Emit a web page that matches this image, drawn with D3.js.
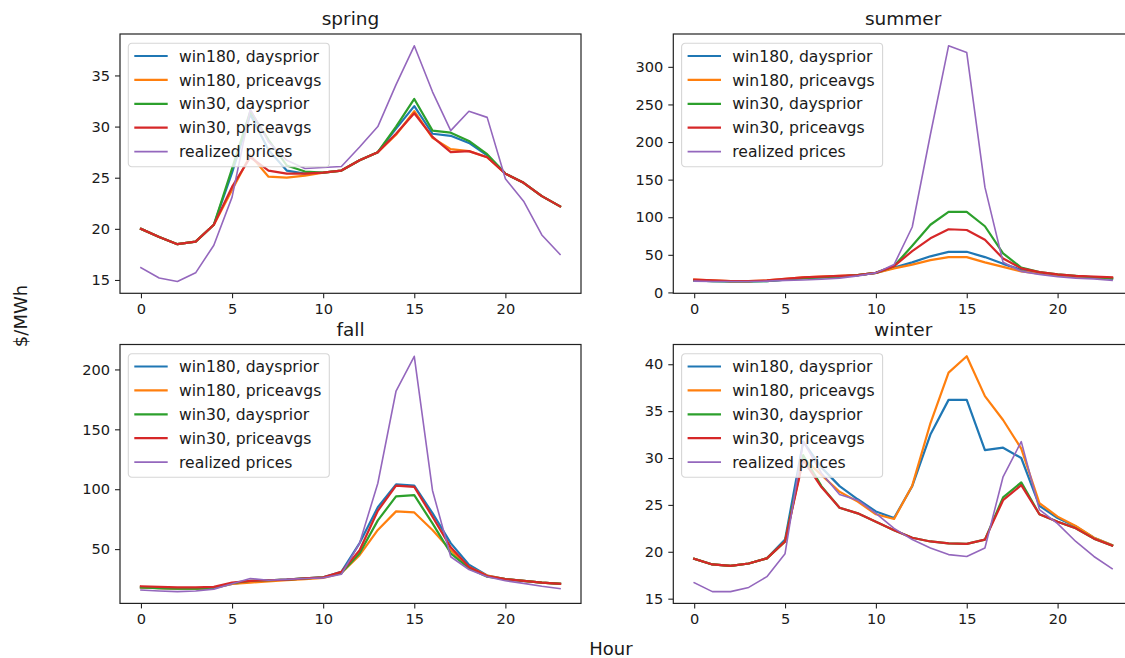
<!DOCTYPE html>
<html>
<head>
<meta charset="utf-8">
<script src="https://d3js.org/d3.v7.min.js"></script>
<style>
  html, body { margin: 0; padding: 0; background: #fff; }
  svg { display: block; }
  text { font-family: "DejaVu Sans", sans-serif; fill: #1a1a1a; }
</style>
</head>
<body>
<svg id="chart" width="1125" height="658"></svg>
<script>
// ---------------- data ----------------
const hours = d3.range(0, 24);
const seriesNames = ["win180, daysprior", "win180, priceavgs", "win30, daysprior", "win30, priceavgs", "realized prices"];
const xTicks = [0, 5, 10, 15, 20];

const springTicks = [15, 20, 25, 30, 35];
const spring_win180_daysprior = [20.0,19.2,18.5,18.75,20.4,25.5,31.2,27.7,25.7,25.4,25.5,25.7,26.7,27.5,29.8,32.0,29.3,29.1,28.4,27.2,25.4,24.5,23.2,22.2];
const spring_win180_priceavgs = [20.0,19.2,18.5,18.75,20.4,23.8,27.2,25.1,25.0,25.2,25.5,25.7,26.7,27.5,29.2,31.5,28.9,27.8,27.6,27.0,25.4,24.5,23.2,22.2];
const spring_win30_daysprior  = [20.0,19.2,18.5,18.75,20.4,25.9,31.5,28.7,26.2,25.6,25.5,25.7,26.7,27.5,30.0,32.7,29.6,29.4,28.6,27.3,25.4,24.5,23.2,22.2];
const spring_win30_priceavgs  = [20.0,19.2,18.5,18.75,20.4,24.1,27.0,25.7,25.4,25.4,25.5,25.7,26.7,27.5,29.3,31.3,29.0,27.5,27.6,27.0,25.4,24.5,23.2,22.2];
const spring_realized         = [16.2,15.2,14.85,15.7,18.4,23.1,31.7,28.5,26.7,25.9,26.0,26.1,28.0,30.0,34.1,37.9,33.4,29.6,31.5,30.9,24.9,22.7,19.4,17.5];

const summerTicks = [0, 50, 100, 150, 200, 250, 300];
const summer_win180_daysprior = [16,15,14.5,14.5,15,17,19,20,21,23,26,33,40,48,54,54,47,38,30,26,23,21,20,18];
const summer_win180_priceavgs = [17,16,15,15,16,18,20,21,22,23,26,32,37,43,47,47,40,34,28,25,23,21,20,19];
const summer_win30_daysprior  = [16,15,14.5,14.5,15,17,19,20,21,23,26,35,62,90,107,107,88,52,33,27,24,22,20,19];
const summer_win30_priceavgs  = [17,16,15,15,16,18,20,21,22,23,26,35,55,72,84,83,70,45,32,27,24,22,21,20];
const summer_realized         = [15,14.5,14.5,14.5,15,16,16.5,17.5,19,22,26,37,87,210,328,319,140,40,28,24,21,19,18,16];

const fallTicks = [50, 100, 150, 200];
const fall_win180_daysprior = [18,17.5,17,17,17.5,21,23,24,24.5,25.5,26.5,31,55,85,104,103,80,55,37,28,25,23.5,22,21];
const fall_win180_priceavgs = [18,17.5,17,17,17.5,21,22,23,24,25,26,30,45,66,81.5,80.6,66,49,35,28,25,23.5,22,21];
const fall_win30_daysprior  = [18,17.5,17,17,17.5,21.5,23.5,24,24.5,25.5,26.5,30,46.5,74,94,95,71.5,46.5,34,27,25,23.5,22,21];
const fall_win30_priceavgs  = [19,18.5,18,18,18.5,22,23.5,24,24.5,25.5,26.5,31,49,82,103,102,77,51.5,35,27.5,25,23.5,22,21];
const fall_realized         = [15.8,15,14.5,15,16.6,21,25.5,24,24.7,25.5,26,29,55,105,182,211,99,43.6,33,27,23.6,21.4,19,17];

const winterTicks = [15, 20, 25, 30, 35, 40];
const winter_win180_daysprior = [19.25,18.65,18.5,18.75,19.3,21.3,31.75,29.0,27.0,25.6,24.3,23.6,27.0,32.5,36.2,36.2,30.85,31.1,30.0,24.9,23.6,22.7,21.5,20.7];
const winter_win180_priceavgs = [19.25,18.65,18.5,18.75,19.3,21.1,30.0,28.2,26.4,25.35,24.0,23.5,27.05,33.7,39.1,40.85,36.6,34.05,31.0,25.2,23.75,22.75,21.5,20.7];
const winter_win30_daysprior  = [19.25,18.65,18.5,18.75,19.3,21.1,30.3,27.0,24.7,24.1,23.2,22.3,21.5,21.1,20.9,20.85,21.3,25.8,27.4,24.0,23.2,22.5,21.4,20.65];
const winter_win30_priceavgs  = [19.25,18.65,18.5,18.75,19.3,21.1,29.8,26.9,24.7,24.1,23.2,22.3,21.5,21.1,20.9,20.85,21.3,25.5,27.1,24.0,23.2,22.5,21.4,20.65];
const winter_realized         = [16.7,15.75,15.75,16.2,17.35,19.8,31.75,28.4,26.1,25.5,24.1,22.5,21.3,20.4,19.7,19.5,20.4,28.0,31.75,24.5,23.0,21.1,19.5,18.2];

// ---------------- styling / layout ----------------
const colors = ["#1f77b4", "#ff7f0e", "#2ca02c", "#d62728", "#9467bd"];
const widths = [2.2, 2.2, 2.2, 2.2, 1.6];

const panels = [
  { title: "spring", ticks: springTicks, series: [spring_win180_daysprior, spring_win180_priceavgs, spring_win30_daysprior, spring_win30_priceavgs, spring_realized], left: 120, right: 581, top: 34, bottom: 293.3 },
  { title: "summer", ticks: summerTicks, series: [summer_win180_daysprior, summer_win180_priceavgs, summer_win30_daysprior, summer_win30_priceavgs, summer_realized], left: 673.3, right: 1133, top: 34, bottom: 293.3 },
  { title: "fall", ticks: fallTicks, series: [fall_win180_daysprior, fall_win180_priceavgs, fall_win30_daysprior, fall_win30_priceavgs, fall_realized], left: 120, right: 581, top: 344.5, bottom: 603.4 },
  { title: "winter", ticks: winterTicks, series: [winter_win180_daysprior, winter_win180_priceavgs, winter_win30_daysprior, winter_win30_priceavgs, winter_realized], left: 673.3, right: 1133, top: 344.5, bottom: 603.4 }
];

const svg = d3.select("#chart");

panels.forEach(p => {
  const xMin = d3.min(hours), xMax = d3.max(hours);
  const xPad = (xMax - xMin) * 0.05;
  const x = d3.scaleLinear().domain([xMin - xPad, xMax + xPad]).range([p.left, p.right]);
  const all = p.series.flat();
  const yMin = d3.min(all), yMax = d3.max(all);
  const yPad = (yMax - yMin) * 0.05;
  const y = d3.scaleLinear().domain([yMin - yPad, yMax + yPad]).range([p.bottom, p.top]);

  const g = svg.append("g");

  // lines
  const line = d3.line().x((d, i) => x(hours[i])).y(d => y(d));
  p.series.forEach((s, i) => {
    g.append("path")
      .datum(s)
      .attr("d", line)
      .attr("fill", "none")
      .attr("stroke", colors[i])
      .attr("stroke-width", widths[i])
      .attr("stroke-linejoin", "round")
      .attr("stroke-linecap", "square");
  });

  // axes
  const xAxis = d3.axisBottom(x).tickValues(xTicks).tickSize(5).tickPadding(5);
  const yAxis = d3.axisLeft(y).tickValues(p.ticks).tickSize(5).tickPadding(5);
  const gx = g.append("g").attr("transform", `translate(0,${p.bottom})`).call(xAxis);
  const gy = g.append("g").attr("transform", `translate(${p.left},0)`).call(yAxis);
  [gx, gy].forEach(a => {
    a.select(".domain").remove();
    a.selectAll(".tick line").attr("stroke", "#222").attr("stroke-width", 1.1);
    a.selectAll(".tick text").attr("font-size", "14.6px").attr("fill", "#1a1a1a")
      .style("font-family", "'DejaVu Sans', sans-serif");
  });

  // frame
  g.append("rect")
    .attr("x", p.left).attr("y", p.top)
    .attr("width", p.right - p.left).attr("height", p.bottom - p.top)
    .attr("fill", "none").attr("stroke", "#222").attr("stroke-width", 1.2);

  // title
  g.append("text")
    .attr("x", (p.left + p.right) / 2)
    .attr("y", p.top - 9)
    .attr("text-anchor", "middle")
    .attr("font-size", "18.5px")
    .text(p.title);

  // legend
  const lg = g.append("g").attr("transform", `translate(${p.left + 8.3},${p.top + 9.3})`);
  lg.append("rect")
    .attr("width", 201).attr("height", 123.4)
    .attr("rx", 3.5).attr("ry", 3.5)
    .attr("fill", "#fff").attr("fill-opacity", 0.8)
    .attr("stroke", "#d6d6d6").attr("stroke-width", 1.1);
  seriesNames.forEach((name, i) => {
    const cy = 12.7 + i * 23.9;
    lg.append("line")
      .attr("x1", 6).attr("x2", 39.4)
      .attr("y1", cy).attr("y2", cy)
      .attr("stroke", colors[i]).attr("stroke-width", widths[i]);
    lg.append("text")
      .attr("x", 50.7).attr("y", cy)
      .attr("dy", "0.36em")
      .attr("font-size", "15.6px")
      .text(name);
  });
});

// shared axis labels
svg.append("text")
  .attr("x", 611).attr("y", 655)
  .attr("text-anchor", "middle")
  .attr("font-size", "18px")
  .text("Hour");

svg.append("text")
  .attr("transform", "translate(27,316) rotate(-90)")
  .attr("text-anchor", "middle")
  .attr("font-size", "18px")
  .text("$/MWh");
</script>
</body>
</html>
